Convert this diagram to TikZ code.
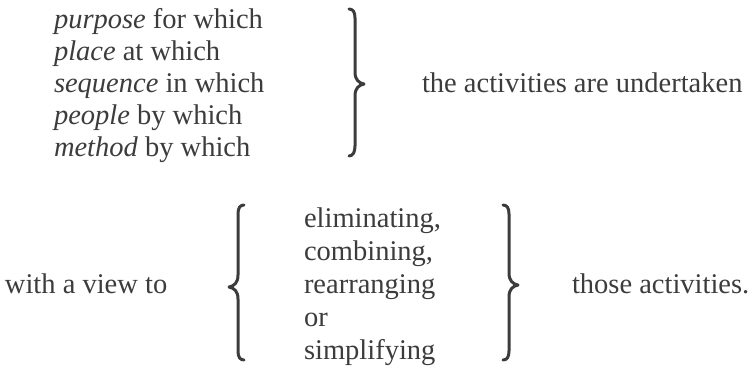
\documentclass[tikz,border=0pt]{standalone}
\usepackage{fontspec}
\setmainfont{Liberation Serif}
\definecolor{ink}{HTML}{3C3C3C}
\begin{document}
\begin{tikzpicture}[x=1pt,y=-1pt,
  txt/.style={anchor=base west, inner sep=0pt, outer sep=0pt, text=ink, font=\fontsize{28.5}{32}\selectfont},
  brc/.style={draw=ink, line width=3pt, line cap=round, line join=round}]
\useasboundingbox (0,0) rectangle (750,367);
% top block
\node[txt] (l1) at (54,28) {\textit{purpose} for which};
\node[txt] (l2) at (54,60) {\textit{place} at which};
\node[txt] (l3) at (54,92) {\textit{sequence} in which};
\node[txt] (l4) at (54,124) {\textit{people} by which};
\node[txt] (l5) at (54,156) {\textit{method} by which};
\node[txt] (act) at (422,92) {the activities are undertaken};
\draw[brc] (349,9) .. controls (353,9) and (355,12) .. (355,18) -- (355,72)
  .. controls (355,80) and (359,83) .. (364,84)
  .. controls (359,85) and (355,88) .. (355,96) -- (355,146)
  .. controls (355,152) and (353,156) .. (349,156);
% bottom block
\node[txt] (view) at (5,293) {with a view to};
\node[txt] (b1) at (304,227) {eliminating,};
\node[txt] (b2) at (304,260) {combining,};
\node[txt] (b3) at (304,293) {rearranging};
\node[txt] (b4) at (304,326) {or};
\node[txt] (b5) at (304,359) {simplifying};
\node[txt] (those) at (572,293) {those activities.};
\draw[brc] (244,205) .. controls (240,205) and (238,208) .. (238,214) -- (238,275)
  .. controls (238,283) and (234,286) .. (229,287)
  .. controls (234,288) and (238,291) .. (238,299) -- (238,351)
  .. controls (238,357) and (240,360) .. (244,360);
\draw[brc] (503,205) .. controls (507,205) and (509,208) .. (509,214) -- (509,273)
  .. controls (509,281) and (513,284) .. (518,285)
  .. controls (513,286) and (509,289) .. (509,297) -- (509,351)
  .. controls (509,357) and (507,360) .. (503,360);
\end{tikzpicture}
\end{document}
